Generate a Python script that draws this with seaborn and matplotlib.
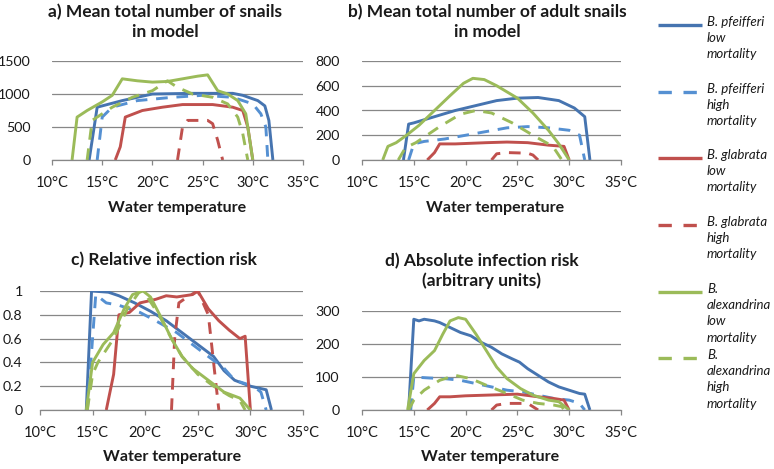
import matplotlib
matplotlib.use("Agg")
import matplotlib.pyplot as plt
import seaborn as sns
import pandas as pd

sns.set_theme(style="white")
plt.rcParams['font.family'] = ['Lato', 'DejaVu Sans']

# ---------------- data ----------------
series_names = ["Bp_low", "Bp_high", "Bg_low", "Bg_high", "Ba_low", "Ba_high"]
legend_labels = ["B. pfeifferi\nlow\nmortality", "B. pfeifferi\nhigh\nmortality",
                 "B. glabrata\nlow\nmortality", "B. glabrata\nhigh\nmortality",
                 "B.\nalexandrina\nlow\nmortality", "B.\nalexandrina\nhigh\nmortality"]

# panel a: mean total number of snails
a_Bp_low_t = [13.7, 14.5, 17, 20, 24, 28, 29, 30.5, 31.2, 31.6, 32]
a_Bp_low_v = [0, 800, 900, 1000, 1010, 1010, 980, 900, 820, 600, 0]
a_Bp_high_t = [14.5, 15, 16, 18.5, 22, 25, 28, 30, 30.8, 31.3, 31.5]
a_Bp_high_v = [0, 650, 800, 900, 950, 980, 950, 850, 700, 500, 0]
a_Bg_low_t = [16.3, 16.8, 17.3, 19, 21, 23, 26, 28, 29, 29.5, 30]
a_Bg_low_v = [0, 200, 650, 750, 800, 840, 840, 800, 750, 500, 0]
a_Bg_high_t = [22.5, 23, 23.5, 25.5, 26, 26.5, 27]
a_Bg_high_v = [0, 500, 600, 600, 550, 300, 0]
a_Ba_low_t = [12, 12.5, 13.5, 15, 16, 17, 18.5, 20, 21.5, 23, 24.5, 25.5, 26.5, 27.5, 28.5, 29.3, 30]
a_Ba_low_v = [0, 650, 750, 880, 980, 1230, 1200, 1180, 1190, 1230, 1270, 1290, 1050, 1000, 900, 700, 0]
a_Ba_high_t = [13.5, 14, 15, 16, 18, 20, 21.5, 22.5, 24, 26, 27.5, 28.5, 29, 29.5]
a_Ba_high_v = [0, 600, 700, 800, 950, 1050, 1200, 1100, 1000, 950, 850, 650, 400, 0]

# panel b: mean total number of adult snails
b_Bp_low_t = [14, 14.5, 15, 17, 19, 21, 23, 25, 27, 29, 30.5, 31.5, 32]
b_Bp_low_v = [0, 290, 300, 350, 400, 440, 480, 500, 505, 480, 420, 350, 0]
b_Bp_high_t = [14.5, 15, 16, 18, 20, 22, 24, 26, 28, 30, 31, 31.5]
b_Bp_high_v = [0, 130, 150, 170, 200, 230, 260, 270, 260, 240, 200, 0]
b_Bg_low_t = [16.3, 17, 17.5, 19, 22, 24, 26, 28, 29.5, 30]
b_Bg_low_v = [0, 60, 130, 130, 140, 145, 140, 120, 110, 0]
b_Bg_high_t = [22.5, 23, 24, 26, 26.5, 27]
b_Bg_high_v = [0, 50, 60, 55, 40, 0]
b_Ba_low_t = [12, 12.5, 13.3, 14.3, 15.5, 17, 18.5, 19.8, 20.7, 21.8, 23, 25, 26.5, 28, 29, 30]
b_Ba_low_v = [0, 110, 140, 200, 280, 400, 520, 620, 660, 650, 600, 500, 380, 240, 130, 0]
b_Ba_high_t = [13.5, 14.2, 15.2, 17.5, 19.5, 21, 22.5, 24.5, 26.5, 28, 28.5, 29.3]
b_Ba_high_v = [0, 100, 140, 270, 370, 400, 380, 300, 200, 130, 100, 0]

# panel c: relative infection risk
c_Bp_low_t = [14.4, 14.9, 16.5, 17.5, 19, 20.5, 22, 23.5, 25, 26.5, 27.5, 28.5, 30, 31.5, 32]
c_Bp_low_v = [0, 1.0, 0.99, 0.96, 0.9, 0.83, 0.75, 0.65, 0.55, 0.45, 0.33, 0.25, 0.2, 0.17, 0]
c_Bp_high_t = [14.5, 15.3, 16.3, 17.5, 19.5, 21, 23, 24.5, 26, 27.5, 28.5, 30.3, 31, 31.5]
c_Bp_high_v = [0, 0.97, 0.9, 0.88, 0.82, 0.75, 0.65, 0.55, 0.45, 0.35, 0.25, 0.2, 0.15, 0]
c_Bg_low_t = [16.3, 17, 17.5, 18.5, 19.5, 21, 22, 23, 24.5, 25, 26, 27, 28, 29, 29.5, 30]
c_Bg_low_v = [0, 0.3, 0.8, 0.82, 0.9, 0.93, 0.96, 0.95, 0.97, 1.0, 0.85, 0.75, 0.67, 0.6, 0.62, 0]
c_Bg_high_t = [22.5, 22.8, 23.2, 24, 25, 26, 26.5, 27]
c_Bg_high_v = [0, 0.6, 0.9, 0.95, 1.0, 0.8, 0.4, 0]
c_Ba_low_t = [14.4, 15, 16, 17, 18, 18.8, 19.8, 20.5, 21.5, 22.5, 23.5, 24.5, 26, 27.5, 29, 30]
c_Ba_low_v = [0, 0.4, 0.55, 0.65, 0.85, 0.97, 1.0, 0.95, 0.78, 0.6, 0.45, 0.35, 0.25, 0.15, 0.1, 0]
c_Ba_high_t = [14.5, 15, 15.5, 17, 18.3, 19.5, 20.2, 21.3, 22.5, 23.5, 25, 26.5, 28, 29, 29.5]
c_Ba_high_v = [0, 0.3, 0.4, 0.6, 0.85, 1.0, 0.95, 0.8, 0.6, 0.45, 0.3, 0.2, 0.12, 0.08, 0]

# panel d: absolute infection risk
d_Bp_low_t = [14.5, 15, 15.5, 16, 17, 17.5, 18.5, 19.5, 20.5, 21.5, 22.5, 23.5, 24.5, 25.2, 26, 27, 28, 29, 30, 31, 31.5, 32]
d_Bp_low_v = [0, 275, 270, 275, 270, 265, 250, 235, 225, 205, 190, 170, 155, 145, 125, 105, 85, 70, 60, 50, 48, 0]
d_Bp_high_t = [14.7, 15, 16.5, 18, 19.5, 21, 22.5, 24, 25.5, 27, 28.5, 30, 31, 31.5]
d_Bp_high_v = [0, 100, 97, 95, 90, 80, 70, 60, 55, 45, 35, 30, 20, 0]
d_Bg_low_t = [16.3, 17, 17.5, 18.5, 20, 22, 24, 25, 27, 28.5, 29.5, 30]
d_Bg_low_v = [0, 20, 40, 40, 43, 45, 47, 48, 40, 35, 30, 0]
d_Bg_high_t = [22.5, 23, 24, 26, 26.5, 27]
d_Bg_high_v = [0, 15, 20, 20, 10, 0]
d_Ba_low_t = [14.4, 15, 16, 17, 17.8, 18.5, 19.3, 20, 21, 22, 23, 24, 25.3, 26.5, 28, 29, 30]
d_Ba_low_v = [0, 110, 150, 180, 230, 270, 280, 275, 230, 180, 130, 95, 65, 45, 30, 25, 0]
d_Ba_high_t = [14.5, 15, 16, 17.5, 19, 20.5, 22, 24, 25.5, 27, 28.5, 29.3, 29.5]
d_Ba_high_v = [0, 30, 60, 90, 105, 95, 75, 50, 30, 20, 15, 10, 0]

x_ticks = [10, 15, 20, 25, 30, 35]
x_tick_labels = ["10°C", "15°C", "20°C", "25°C", "30°C", "35°C"]
a_yticks = [0, 500, 1000, 1500]
b_yticks = [0, 200, 400, 600, 800]
c_yticks = [0, 0.2, 0.4, 0.6, 0.8, 1]
c_ytick_labels = ["0", "0.2", "0.4", "0.6", "0.8", "1"]
d_yticks = [0, 100, 200, 300]

titles = ["a) Mean total number of snails\nin model",
          "b) Mean total number of adult snails\nin model",
          "c) Relative infection risk",
          "d) Absolute infection risk\n(arbitrary units)"]
xlabel = "Water temperature"

# ---------------- styles ----------------
colors = {"Bp_low": "#4674B0", "Bp_high": "#5590D2",
          "Bg_low": "#C0504D", "Bg_high": "#C0504D",
          "Ba_low": "#9BBB59", "Ba_high": "#9BBB59"}
dashed = {"Bp_low": False, "Bp_high": True, "Bg_low": False,
          "Bg_high": True, "Ba_low": False, "Ba_high": True}
LW = 2.1
DASH = (4, 3)
TEXT = "#1a1a1a"


def build_df(prefix):
    rows = []
    g = globals()
    for s in series_names:
        for t, v in zip(g[f"{prefix}_{s}_t"], g[f"{prefix}_{s}_v"]):
            rows.append({"temp": t, "value": v, "series": s})
    return pd.DataFrame(rows)


fig = plt.figure(figsize=(7.74, 4.69), dpi=100)

W, H = 774, 469


def px_axes(x0, x1, ytop, ybot):
    return fig.add_axes([x0 / W, 1 - ybot / H, (x1 - x0) / W, (ybot - ytop) / H])


axes_specs = [
    ("a", (52, 303, 61, 160), a_yticks, [str(v) for v in a_yticks], 9.5),
    ("b", (362, 621, 61, 160), b_yticks, [str(v) for v in b_yticks], 10),
    ("c", (40, 303, 291, 410), c_yticks, c_ytick_labels, 6.5),
    ("d", (362, 621, 311, 410), d_yticks, [str(v) for v in d_yticks], 10),
]

grid_color = "#878787"
for prefix, box, yt, ytl, ypad in axes_specs:
    ax = px_axes(*box)
    df = build_df(prefix)
    for s in series_names:
        sub = df[df["series"] == s]
        sns.lineplot(data=sub, x="temp", y="value", ax=ax, color=colors[s],
                     lw=LW, sort=False, estimator=None, legend=False,
                     dashes=False, solid_capstyle="butt")
        line = ax.lines[-1]
        if dashed[s]:
            line.set_dashes(DASH)
            line.set_dash_capstyle("butt")
    ax.set_xlim(10, 35)
    ax.set_ylim(yt[0], yt[-1])
    ax.set_xticks(x_ticks)
    ax.set_xticklabels(x_tick_labels)
    ax.set_yticks(yt)
    ax.set_yticklabels(ytl)
    ax.set_xlabel("")
    ax.set_ylabel("")
    ax.yaxis.grid(True, color=grid_color, lw=0.9)
    ax.xaxis.grid(False)
    ax.set_axisbelow(True)
    for sp in ["top", "right", "left"]:
        ax.spines[sp].set_visible(False)
    ax.spines["bottom"].set_color(grid_color)
    ax.spines["bottom"].set_linewidth(0.9)
    ax.tick_params(axis="x", bottom=True, direction="out", length=3.5, width=0.9,
                   color=grid_color, labelsize=10.5, pad=8, labelcolor=TEXT)
    ax.tick_params(axis="y", left=False, labelsize=10.2, pad=ypad, labelcolor=TEXT)
    ax.set_facecolor("none")

# titles and x labels
TS = 12.5
LS = 1.25
fig.text(165 / W, 1 - 37 / H, titles[0], ha="center", va="baseline",
         fontsize=TS, fontweight="bold", linespacing=LS, color=TEXT)
fig.text(487 / W, 1 - 37 / H, titles[1], ha="center", va="baseline",
         fontsize=TS, fontweight="bold", linespacing=LS, color=TEXT)
fig.text(164 / W, 1 - 265 / H, titles[2], ha="center", va="baseline",
         fontsize=TS, fontweight="bold", color=TEXT)
fig.text(482 / W, 1 - 286 / H, titles[3], ha="center", va="baseline",
         fontsize=TS, fontweight="bold", linespacing=LS, color=TEXT)
for xc, yc in [(177, 212), (495, 212), (172, 461), (490, 461)]:
    fig.text(xc / W, 1 - yc / H, xlabel, ha="center", va="baseline",
             fontsize=11.5, fontweight="bold", color=TEXT)

# legend (manual, in pixel units)
leg = fig.add_axes([0, 0, 1, 1])
leg.set_xlim(0, W)
leg.set_ylim(H, 0)
leg.axis("off")
leg_y = [25, 92, 158, 225, 292, 358]
for s, lab, y in zip(series_names, legend_labels, leg_y):
    ln, = leg.plot([658, 702], [y, y], color=colors[s], lw=LW + 0.3,
                   solid_capstyle="butt")
    if dashed[s]:
        ln.set_dashes((4, 3.5))
        ln.set_dash_capstyle("butt")
    leg.text(707, y - 9, lab, ha="left", va="top", fontsize=9.5,
             fontstyle="italic", linespacing=1.42, color=TEXT)

fig.savefig("out.png", dpi=100)
